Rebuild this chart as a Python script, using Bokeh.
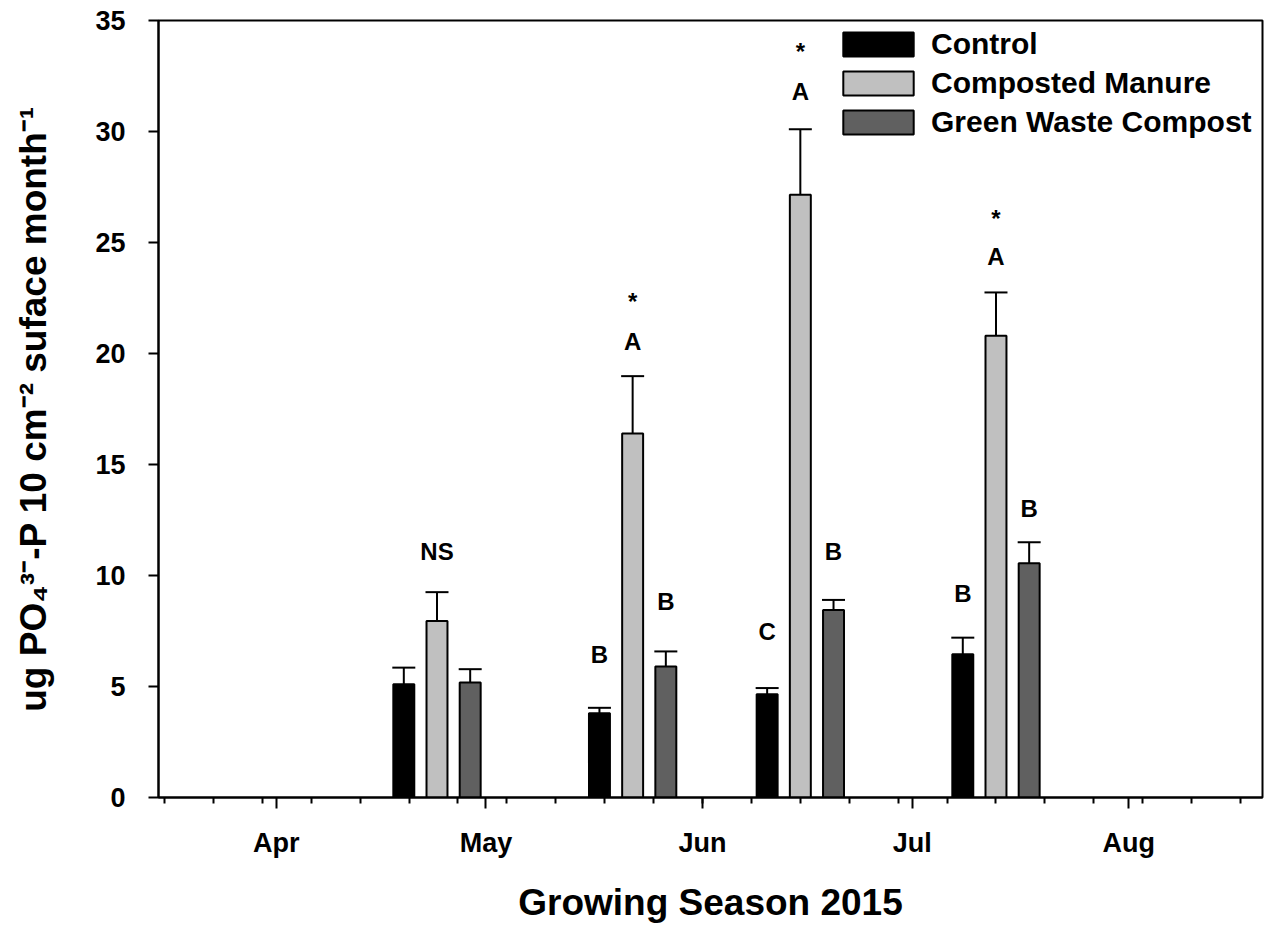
import pandas as pd
from bokeh.plotting import figure
from bokeh.models import (Range1d, FixedTicker, DatetimeTickFormatter, Whisker, TeeHead,
                          ColumnDataSource, Legend, LegendItem)
from bokeh.core.properties import value
from bokeh.embed import file_html
from bokeh.resources import INLINE

# ---------------- data ----------------
sample_dates = ["2015-04-24", "2015-05-22", "2015-06-15", "2015-07-13"]
series_names = ["Control", "Composted Manure", "Green Waste Compost"]

control_mean = [5.10, 3.80, 4.65, 6.45]
control_se = [0.75, 0.24, 0.28, 0.75]
manure_mean = [7.95, 16.40, 27.15, 20.80]
manure_se = [1.30, 2.58, 2.95, 1.95]
green_mean = [5.18, 5.90, 8.45, 10.55]
green_se = [0.60, 0.68, 0.45, 0.95]

control_letters = ["", "B", "C", "B"]
manure_letters = ["NS", "A", "A", "A"]
green_letters = ["", "B", "B", "B"]
significance = ["", "*", "*", "*"]
control_letter_y = [0.0, 6.45, 7.50, 9.20]
manure_letter_y = [11.10, 20.55, 31.80, 24.35]
green_letter_y = [0.0, 8.85, 11.10, 13.00]
star_y = [0.0, 22.35, 33.60, 26.10]

y_ticks = [0, 5, 10, 15, 20, 25, 30, 35]
month_ticks = ["2015-04-01", "2015-05-01", "2015-06-01", "2015-07-01", "2015-08-01"]
x_start, x_end = "2015-03-15 03:26", "2015-08-20 03:26"

# ---------------- styling ----------------
FONT_NAME = "Liberation Sans"
FONT = value(FONT_NAME)
DAY = pd.Timedelta(days=1)
OFFSET = 4.75 * DAY
BAR_W = 3 * 86400000

dates = pd.to_datetime(sample_dates)
xs = [dates - OFFSET, dates, dates + OFFSET]
means = [control_mean, manure_mean, green_mean]
ses = [control_se, manure_se, green_se]
fills = ["#000000", "#c0c0c0", "#606060"]

p = figure(width=1267, height=926, x_axis_type="datetime",
           output_backend="svg", toolbar_location=None,
           x_range=Range1d(pd.Timestamp(x_start), pd.Timestamp(x_end)),
           y_range=Range1d(0, 35),
           min_border_left=158, min_border_right=5, min_border_top=20, min_border_bottom=129)
p.background_fill_color = "white"
p.border_fill_color = "white"
p.outline_line_color = "black"
p.outline_line_width = 2
p.xgrid.visible = False
p.ygrid.visible = False

renderers = []
for x, m, se, fc in zip(xs, means, ses, fills):
    src = ColumnDataSource(dict(x=x, top=m, upper=[a + b for a, b in zip(m, se)]))
    r = p.vbar(x="x", top="top", bottom=0, width=BAR_W, source=src,
               fill_color=fc, line_color="black", line_width=2)
    renderers.append(r)
    w = Whisker(base="x", lower="top", upper="upper", source=src, dimension="height",
                line_color="black", line_width=2,
                upper_head=TeeHead(size=23, line_color="black", line_width=2),
                lower_head=None)
    p.add_layout(w)

# letters
tx, ty, tt = [], [], []
for x, letters, ly in zip(xs, [control_letters, manure_letters, green_letters],
                          [control_letter_y, manure_letter_y, green_letter_y]):
    for xi, l, yi in zip(x, letters, ly):
        if l:
            tx.append(xi); ty.append(yi); tt.append(l)
for xi, s, yi in zip(dates, significance, star_y):
    if s:
        tx.append(xi); ty.append(yi); tt.append(s)
p.text(x=tx, y=ty, text=tt, text_align="center", text_baseline="middle",
       text_font=FONT, text_font_style="bold", text_font_size="24px", text_color="black")

# legend
legend = Legend(items=[LegendItem(label=n, renderers=[r]) for n, r in zip(series_names, renderers)],
                location=(676, 658), glyph_width=88, glyph_height=30, label_standoff=9,
                spacing=5, padding=5, margin=0, label_height=33,
                border_line_color=None, background_fill_alpha=0,
                label_text_font=FONT_NAME, label_text_font_style="bold",
                label_text_font_size="30px", label_text_color="black")
p.add_layout(legend)

# x axis
week_ticks = pd.date_range("2015-03-16", "2015-08-17", freq="7D")
to_ms = lambda d: pd.Timestamp(d).value / 1e6
p.xaxis.ticker = FixedTicker(ticks=[to_ms(d) for d in month_ticks],
                             minor_ticks=[to_ms(d) for d in week_ticks])
p.xaxis.formatter = DatetimeTickFormatter(days="%b", months="%b", years="%b")
p.xaxis.axis_label = "Growing Season 2015"
p.xaxis.major_tick_out = 11
p.xaxis.major_tick_in = 0
p.xaxis.minor_tick_out = 6
p.xaxis.minor_tick_in = 0
p.xaxis.major_label_standoff = 19
p.xaxis.axis_label_standoff = 21

# y axis
p.yaxis.ticker = FixedTicker(ticks=y_ticks)
p.yaxis.axis_label = "ug PO\u2084\u00b3\u207b-P 10 cm\u207b\u00b2 suface month\u207b\u00b9"
p.yaxis.major_tick_out = 10
p.yaxis.major_tick_in = 0
p.yaxis.minor_tick_line_color = None
p.yaxis.major_label_standoff = 23
p.yaxis.axis_label_standoff = 38

for ax in (p.xaxis, p.yaxis):
    ax.axis_line_width = 2
    ax.axis_line_color = "black"
    ax.major_tick_line_width = 2
    ax.minor_tick_line_width = 2
    ax.major_label_text_font = FONT_NAME
    ax.major_label_text_font_style = "bold"
    ax.major_label_text_font_size = "27px"
    ax.major_label_text_color = "black"
    ax.axis_label_text_font = FONT_NAME
    ax.axis_label_text_font_style = "bold"
    ax.axis_label_text_color = "black"
p.xaxis.axis_label_text_font_size = "37px"
p.yaxis.axis_label_text_font_size = "37px"

open("out.html", "w").write(file_html(p, INLINE))
